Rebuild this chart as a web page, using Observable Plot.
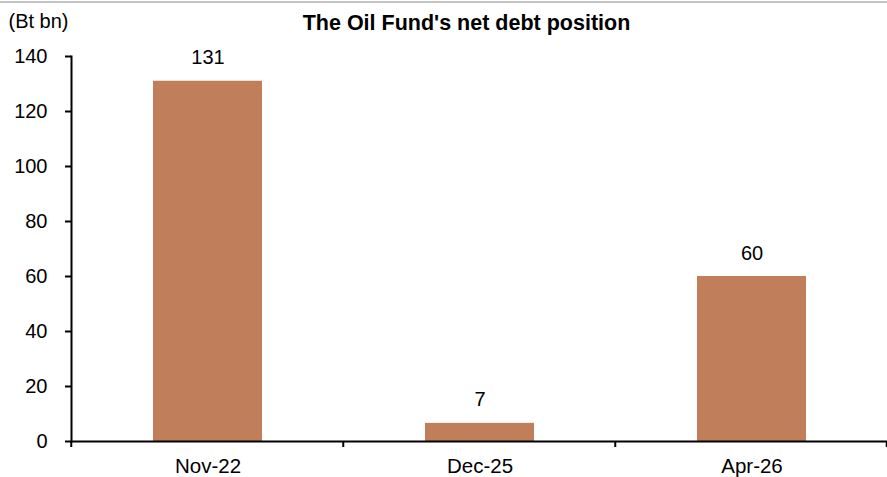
<!DOCTYPE html>
<html>
<head>
<meta charset="utf-8">
<script src="https://cdn.jsdelivr.net/npm/d3@7"></script>
<script src="https://cdn.jsdelivr.net/npm/@observablehq/plot@0.6"></script>
<style>
  html, body { margin: 0; padding: 0; background: #fff; }
  #wrap { width: 887px; margin-top: 1px; border-top: 2px solid #c4c4c4; font-family: "Liberation Sans", Arial, sans-serif; }
</style>
</head>
<body>
<div id="wrap"></div>
<script>
const categories = ["Nov-22", "Dec-25", "Apr-26"];
const values = [131, 6.6, 60];
const labels = ["131", "7", "60"];
const yTicks = [0, 20, 40, 60, 80, 100, 120, 140];
const titleText = "The Oil Fund's net debt position";
const unitText = "(Bt bn)";

const data = categories.map((c, i) => ({cat: c, value: values[i], label: labels[i]}));

const boundaryTicks = (index, scales, values, dimensions) => {
  const x = scales.x;
  const bw = typeof x.bandwidth === "function" ? x.bandwidth() : x.bandwidth;
  const step = bw / (1 - 0.6);
  const y0 = scales.y(0);
  const g = d3.create("svg:g");
  const xs = categories.map(c => x(c) + bw / 2 - step / 2);
  xs.push(x(categories[categories.length - 1]) + bw / 2 + step / 2 - 1);
  for (const xv of xs) {
    g.append("line")
      .attr("x1", xv).attr("x2", xv)
      .attr("y1", y0).attr("y2", y0 + 6)
      .attr("stroke", "#000").attr("stroke-width", 2);
  }
  return g.node();
};

const chart = Plot.plot({
  width: 887,
  height: 474,
  marginLeft: 71,
  marginRight: 0,
  marginTop: 53,
  marginBottom: 36,
  style: {fontFamily: "'Liberation Sans', Arial, sans-serif", fontSize: "20px", color: "#000", background: "#fff"},
  x: {domain: categories, paddingInner: 0.6, paddingOuter: 0.3, align: 0.5, label: null},
  y: {domain: [0, 140], label: null},
  marks: [
    Plot.barY(data, {x: "cat", y: "value", fill: "#c07e5a"}),
    Plot.axisY({ticks: yTicks, tickSize: 6, tickPadding: 18, tickFormat: d => String(d), strokeWidth: 2, label: null, fontSize: 20}),
    Plot.axisX({tickSize: 0, tickPadding: 17, label: null, fontSize: 20.5}),
    Plot.frame({anchor: "left", stroke: "#000", strokeWidth: 2}),
    Plot.ruleY([0], {stroke: "#000", strokeWidth: 2}),
    boundaryTicks,
    Plot.text(data, {x: "cat", y: "value", text: "label", lineAnchor: "bottom", dy: -17, fontSize: 20, fill: "#000"}),
    Plot.text([titleText], {frameAnchor: "top", dx: -13, dy: -33, lineAnchor: "middle", fontSize: 21.5, fontWeight: "bold", fill: "#000"}),
    Plot.text([unitText], {frameAnchor: "top-left", textAnchor: "start", dx: -63, dy: -35, lineAnchor: "middle", fontSize: 20, fill: "#000"})
  ]
});
document.getElementById("wrap").appendChild(chart);
</script>
</body>
</html>
